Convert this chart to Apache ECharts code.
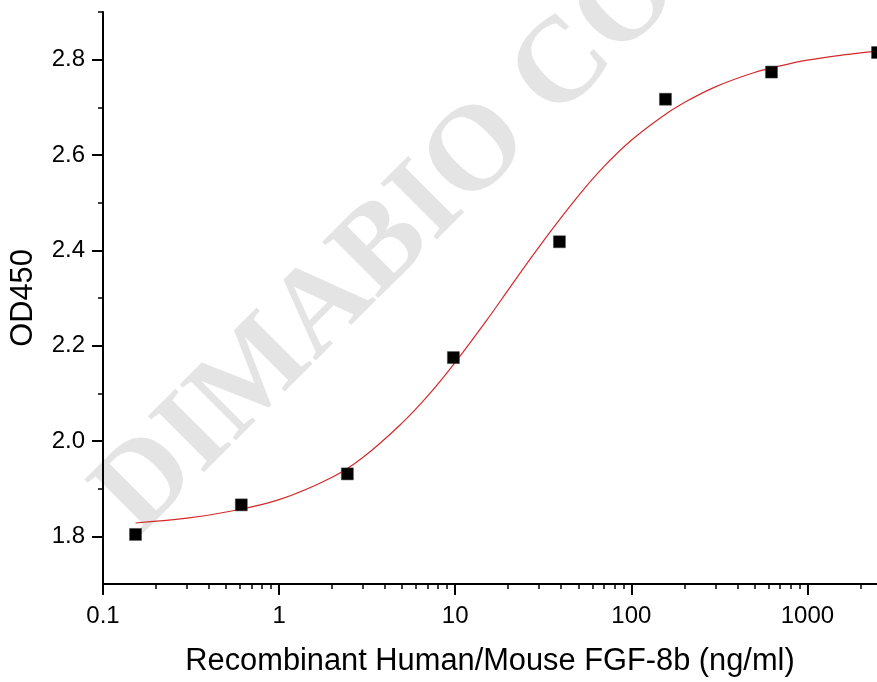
<!DOCTYPE html>
<html>
<head>
<meta charset="utf-8">
<script src="https://cdn.jsdelivr.net/npm/echarts@6/dist/echarts.min.js"></script>
<style>
  html, body { margin: 0; padding: 0; background: #fff; }
  #chart { width: 877px; height: 682px; }
</style>
</head>
<body>
<div id="chart"></div>
<script>
// measured points (4-fold dilution series)
const concentrations = [0.153, 0.610, 2.441, 9.766, 39.06, 156.25, 625, 2500];
const od450 = [1.804, 1.866, 1.931, 2.175, 2.418, 2.717, 2.774, 2.815];

// fitted curve
const fitConc = [0.153, 0.3, 0.5, 1, 2, 3, 5, 7, 10, 15, 20, 30, 50, 70,
  100, 150, 200, 300, 500, 700, 1000, 1600, 2483];
const fitOD = [1.828, 1.838, 1.851, 1.877, 1.924, 1.966, 2.038, 2.095, 2.165, 2.252, 2.317, 2.408, 2.514, 2.576,
  2.631, 2.681, 2.710, 2.743, 2.773, 2.787, 2.799, 2.810, 2.818];

const xMajor = [0.1, 1, 10, 100, 1000];
const xMinor = [0.2, 0.3, 0.4, 0.5, 0.6, 0.7, 0.8, 0.9,
  2, 3, 4, 5, 6, 7, 8, 9,
  20, 30, 40, 50, 60, 70, 80, 90,
  200, 300, 400, 500, 600, 700, 800, 900, 2000];
const yMajor = [1.8, 2.0, 2.2, 2.4, 2.6, 2.8];
const yMinor = [1.9, 2.1, 2.3, 2.5, 2.7, 2.9];

const font = '"Liberation Sans", Arial, sans-serif';
const xMin = 0.1, xMax = 2483, yMin = 1.7, yMax = 2.9;

const chart = echarts.init(document.getElementById('chart'));

const option = {
  animation: false,
  backgroundColor: '#fff',
  textStyle: { fontFamily: font },
  grid: { left: 100, right: 0, top: 12, bottom: 96 },
  graphic: [
    {
      type: 'text',
      x: 117,
      y: 515,
      rotation: Math.PI / 4,
      z: -10,
      silent: true,
      style: {
        text: 'DIMABIO CO.,LTD',
        fontSize: 121,
        fontWeight: 'bold',
        fontFamily: '"Liberation Serif", "Times New Roman", serif',
        fill: '#e4e4e4',
        align: 'left',
        verticalAlign: 'middle'
      }
    }
  ],
  xAxis: [
    {
      type: 'log',
      logBase: 10,
      min: xMin,
      max: xMax,
      position: 'bottom',
      name: 'Recombinant Human/Mouse FGF-8b (ng/ml)',
      nameLocation: 'middle',
      nameGap: 62,
      nameTextStyle: { fontSize: 30.8, color: '#000', fontFamily: font },
      axisLine: { lineStyle: { color: '#000', width: 2 } },
      axisTick: { customValues: xMajor, length: 11, lineStyle: { color: '#000', width: 2 } },
      axisLabel: {
        customValues: xMajor,
        fontSize: 24, color: '#000', margin: 20, fontFamily: font,
        formatter: v => String(v)
      },
      splitLine: { show: false }
    },
    {
      type: 'log',
      logBase: 10,
      min: xMin,
      max: xMax,
      position: 'bottom',
      axisLine: { show: false },
      axisTick: { customValues: xMinor, length: 5, lineStyle: { color: '#000', width: 1.5 } },
      axisLabel: { show: false },
      splitLine: { show: false }
    }
  ],
  yAxis: [
    {
      type: 'value',
      min: yMin,
      max: yMax,
      position: 'left',
      name: 'OD450',
      nameLocation: 'middle',
      nameGap: 64,
      nameTextStyle: { fontSize: 30.8, color: '#000', fontFamily: font },
      axisLine: { show: true, lineStyle: { color: '#000', width: 2 } },
      axisTick: { show: true, customValues: yMajor, length: 11, lineStyle: { color: '#000', width: 2 } },
      axisLabel: {
        customValues: yMajor,
        fontSize: 24, color: '#000', margin: 18, fontFamily: font,
        formatter: v => v.toFixed(1)
      },
      splitLine: { show: false }
    },
    {
      type: 'value',
      min: yMin,
      max: yMax,
      position: 'left',
      axisLine: { show: false },
      axisTick: { show: true, customValues: yMinor, length: 5, lineStyle: { color: '#000', width: 1.5 } },
      axisLabel: { show: false },
      splitLine: { show: false }
    }
  ],
  series: [
    {
      type: 'line',
      data: fitConc.map((c, i) => [c, fitOD[i]]),
      showSymbol: false,
      smooth: 0.4,
      lineStyle: { color: '#d42a2a', width: 1.2 },
      z: 2
    },
    {
      type: 'scatter',
      data: concentrations.map((c, i) => [c, od450[i]]),
      symbol: 'rect',
      symbolSize: 12,
      clip: false,
      itemStyle: { color: '#000', opacity: 1, borderColor: '#444', borderWidth: 0.5 },
      z: 3
    }
  ]
};

chart.setOption(option);
</script>
</body>
</html>
